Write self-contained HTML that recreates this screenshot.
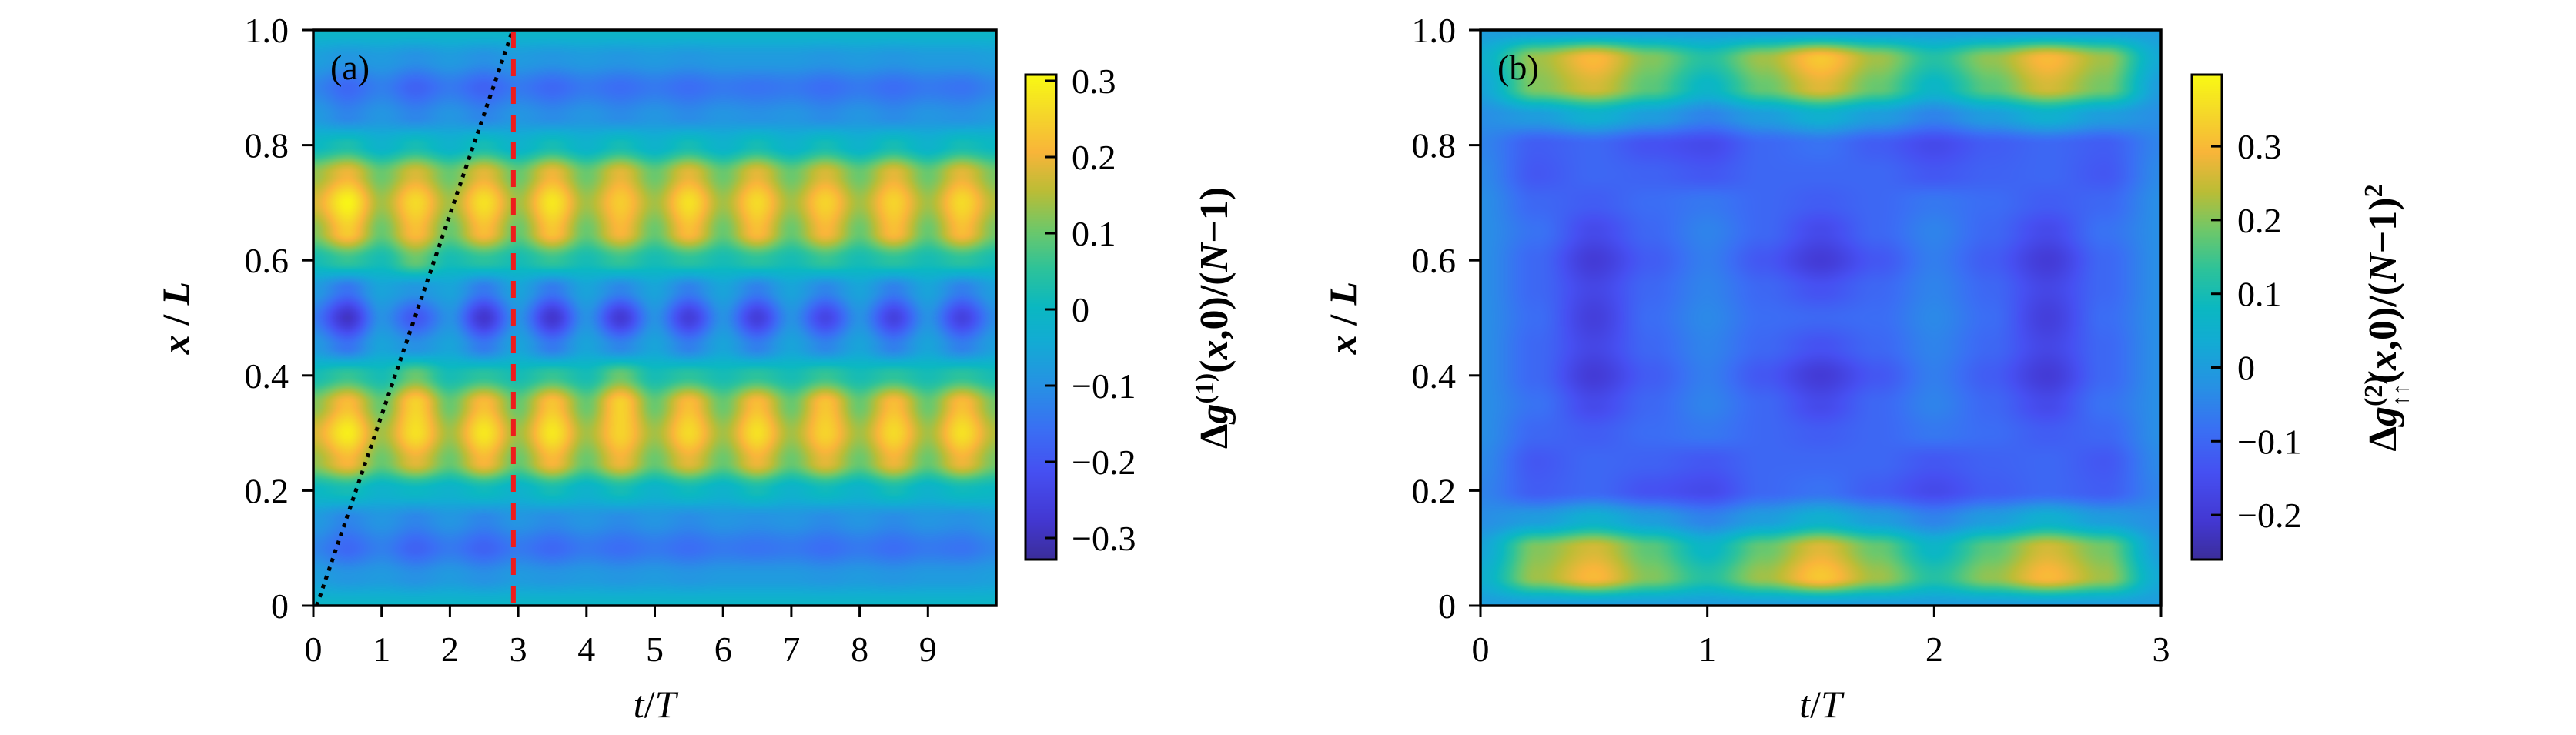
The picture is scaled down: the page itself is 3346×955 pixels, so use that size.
<!DOCTYPE html>
<html><head><meta charset="utf-8">
<style>
html,body{margin:0;padding:0;background:#fff;}
#root{position:relative;width:3346px;height:955px;overflow:hidden;background:#fff;}
canvas{position:absolute;}
svg{position:absolute;left:0;top:0;}
text{font-family:"Liberation Serif","DejaVu Serif",serif;fill:#000;}
</style></head>
<body>
<div id="root">
<canvas id="hmA"></canvas>
<canvas id="hmB"></canvas>
<canvas id="cbA"></canvas>
<canvas id="cbB"></canvas>
<svg id="ov" width="3346" height="955"></svg>
</div>
<script>
// ---------- Panel (a) data ----------
const tA = [0,0.5,1,1.5,2,2.5,3,3.5,4,4.5,5,5.5,6,6.5,7,7.5,8,8.5,9,9.5,10];
const xA = [0,0.05,0.1,0.15,0.2,0.25,0.3,0.35,0.4,0.45,0.5,0.55,0.6,0.65,0.7,0.75,0.8,0.85,0.9,0.95,1];
const zA = [
[-0.01,-0.01,-0.01,-0.01,-0.01,-0.01,-0.01,-0.01,-0.01,-0.01,-0.01,-0.01,-0.01,-0.01,-0.01,-0.01,-0.01,-0.01,-0.01,-0.01,-0.01],
[-0.07,-0.09,-0.08,-0.10,-0.08,-0.10,-0.08,-0.09,-0.08,-0.09,-0.08,-0.09,-0.08,-0.08,-0.08,-0.09,-0.08,-0.09,-0.08,-0.08,-0.07],
[-0.12,-0.17,-0.13,-0.18,-0.14,-0.18,-0.14,-0.17,-0.14,-0.16,-0.14,-0.16,-0.14,-0.15,-0.14,-0.16,-0.14,-0.16,-0.14,-0.15,-0.12],
[-0.08,-0.12,-0.09,-0.12,-0.09,-0.12,-0.09,-0.11,-0.09,-0.11,-0.09,-0.11,-0.09,-0.10,-0.09,-0.11,-0.09,-0.11,-0.09,-0.10,-0.08],
[0.00,0.02,-0.02,0.00,-0.02,0.01,-0.02,0.02,-0.02,0.02,-0.02,0.01,-0.02,0.02,-0.02,0.01,-0.02,0.02,-0.02,0.01,0.00],
[0.13,0.21,0.10,0.19,0.10,0.21,0.10,0.21,0.10,0.20,0.10,0.19,0.10,0.20,0.10,0.19,0.10,0.20,0.10,0.20,0.11],
[0.18,0.29,0.14,0.27,0.14,0.28,0.14,0.28,0.14,0.25,0.14,0.26,0.14,0.27,0.14,0.25,0.14,0.26,0.14,0.27,0.15],
[0.12,0.22,0.10,0.25,0.10,0.22,0.10,0.23,0.10,0.25,0.10,0.22,0.10,0.22,0.10,0.23,0.10,0.22,0.10,0.22,0.11],
[0.02,0.06,0.02,0.10,0.02,0.05,0.02,0.06,0.02,0.10,0.02,0.05,0.02,0.05,0.02,0.06,0.02,0.05,0.02,0.05,0.02],
[-0.08,-0.15,-0.06,-0.10,-0.06,-0.14,-0.06,-0.14,-0.06,-0.12,-0.06,-0.13,-0.06,-0.13,-0.06,-0.12,-0.06,-0.13,-0.06,-0.13,-0.07],
[-0.14,-0.29,-0.10,-0.20,-0.10,-0.28,-0.10,-0.28,-0.10,-0.27,-0.10,-0.26,-0.10,-0.26,-0.10,-0.24,-0.10,-0.25,-0.10,-0.25,-0.11],
[-0.08,-0.15,-0.06,-0.09,-0.06,-0.14,-0.06,-0.14,-0.06,-0.12,-0.06,-0.13,-0.06,-0.13,-0.06,-0.12,-0.06,-0.13,-0.06,-0.13,-0.07],
[0.02,0.06,0.02,0.10,0.02,0.05,0.02,0.06,0.02,0.06,0.02,0.05,0.02,0.05,0.02,0.06,0.02,0.05,0.02,0.05,0.02],
[0.12,0.24,0.10,0.22,0.10,0.22,0.10,0.23,0.10,0.21,0.10,0.22,0.10,0.22,0.10,0.21,0.10,0.22,0.10,0.22,0.11],
[0.18,0.30,0.14,0.26,0.14,0.27,0.14,0.28,0.14,0.24,0.14,0.27,0.14,0.26,0.14,0.25,0.14,0.25,0.14,0.26,0.15],
[0.13,0.20,0.10,0.18,0.10,0.19,0.10,0.20,0.10,0.19,0.10,0.19,0.10,0.19,0.10,0.18,0.10,0.19,0.10,0.19,0.11],
[0.00,0.03,-0.02,0.02,-0.02,0.02,-0.02,0.02,-0.02,0.02,-0.02,0.02,-0.02,0.02,-0.02,0.02,-0.02,0.02,-0.02,0.02,0.00],
[-0.08,-0.12,-0.09,-0.12,-0.09,-0.12,-0.09,-0.11,-0.09,-0.11,-0.09,-0.11,-0.09,-0.10,-0.09,-0.11,-0.09,-0.11,-0.09,-0.10,-0.08],
[-0.12,-0.17,-0.13,-0.18,-0.14,-0.18,-0.14,-0.17,-0.14,-0.16,-0.14,-0.16,-0.14,-0.15,-0.14,-0.16,-0.14,-0.16,-0.14,-0.15,-0.12],
[-0.07,-0.09,-0.08,-0.10,-0.08,-0.10,-0.08,-0.09,-0.08,-0.09,-0.08,-0.09,-0.08,-0.08,-0.08,-0.09,-0.08,-0.09,-0.08,-0.08,-0.07],
[-0.01,-0.01,-0.01,-0.01,-0.01,-0.01,-0.01,-0.01,-0.01,-0.01,-0.01,-0.01,-0.01,-0.01,-0.01,-0.01,-0.01,-0.01,-0.01,-0.01,-0.01]
];
const xTicksA = [0,1,2,3,4,5,6,7,8,9];
const yTicks = [0,0.2,0.4,0.6,0.8,1.0];
const yTickLabels = ["0","0.2","0.4","0.6","0.8","1.0"];
const cbTicksA = [-0.3,-0.2,-0.1,0,0.1,0.2,0.3];
const cbLabelsA = ["\u22120.3","\u22120.2","\u22120.1","0","0.1","0.2","0.3"];
const dotLineT = [0.05,2.92];
const dotLineX = [0,1];
const redLineT = [2.93];

// ---------- Panel (b) data ----------
const tB = [0,0.25,0.5,0.75,1,1.25,1.5,1.75,2,2.25,2.5,2.75,3];
const xB = [0,0.05,0.1,0.15,0.2,0.25,0.3,0.35,0.4,0.45,0.5,0.55,0.6,0.65,0.7,0.75,0.8,0.85,0.9,0.95,1];
const zB = [
[0.00,0.00,0.00,0.00,0.00,0.00,0.00,0.00,0.00,0.00,0.00,0.00,0.00],
[0.05,0.22,0.30,0.20,0.12,0.22,0.32,0.22,0.12,0.21,0.30,0.22,0.03],
[0.02,0.20,0.26,0.17,0.07,0.18,0.27,0.18,0.07,0.17,0.26,0.19,0.00],
[-0.03,0.00,0.05,0.00,-0.05,0.00,0.05,0.00,-0.05,0.00,0.05,0.00,-0.03],
[-0.05,-0.12,-0.10,-0.14,-0.16,-0.10,-0.08,-0.12,-0.16,-0.12,-0.10,-0.12,-0.05],
[-0.04,-0.13,-0.10,-0.11,-0.13,-0.10,-0.10,-0.10,-0.13,-0.11,-0.10,-0.13,-0.04],
[-0.03,-0.10,-0.12,-0.09,-0.07,-0.10,-0.12,-0.10,-0.07,-0.09,-0.12,-0.10,-0.03],
[-0.03,-0.08,-0.16,-0.10,-0.05,-0.10,-0.16,-0.10,-0.05,-0.10,-0.16,-0.08,-0.03],
[-0.03,-0.10,-0.20,-0.12,-0.06,-0.13,-0.20,-0.13,-0.06,-0.12,-0.20,-0.10,-0.03],
[-0.03,-0.10,-0.17,-0.10,-0.05,-0.10,-0.14,-0.10,-0.05,-0.10,-0.17,-0.10,-0.03],
[-0.03,-0.09,-0.19,-0.09,-0.04,-0.09,-0.10,-0.09,-0.04,-0.09,-0.19,-0.09,-0.03],
[-0.03,-0.10,-0.17,-0.10,-0.05,-0.10,-0.14,-0.10,-0.05,-0.10,-0.17,-0.10,-0.03],
[-0.03,-0.10,-0.20,-0.12,-0.06,-0.13,-0.20,-0.13,-0.06,-0.12,-0.20,-0.10,-0.03],
[-0.03,-0.08,-0.16,-0.10,-0.05,-0.10,-0.16,-0.10,-0.05,-0.10,-0.16,-0.08,-0.03],
[-0.03,-0.10,-0.12,-0.09,-0.07,-0.10,-0.12,-0.10,-0.07,-0.09,-0.12,-0.10,-0.03],
[-0.04,-0.13,-0.10,-0.11,-0.13,-0.10,-0.10,-0.10,-0.13,-0.11,-0.10,-0.13,-0.04],
[-0.05,-0.12,-0.10,-0.14,-0.16,-0.10,-0.08,-0.12,-0.16,-0.12,-0.10,-0.12,-0.05],
[-0.03,0.00,0.05,0.00,-0.05,0.00,0.05,0.00,-0.05,0.00,0.05,0.00,-0.03],
[0.02,0.20,0.26,0.17,0.07,0.18,0.27,0.18,0.07,0.17,0.26,0.19,0.00],
[0.05,0.22,0.30,0.20,0.12,0.22,0.32,0.22,0.12,0.21,0.30,0.22,0.03],
[0.00,0.00,0.00,0.00,0.00,0.00,0.00,0.00,0.00,0.00,0.00,0.00,0.00]
];
const xTicksB = [0,1,2,3];
const cbTicksB = [-0.2,-0.1,0,0.1,0.2,0.3];
const cbLabelsB = ["\u22120.2","\u22120.1","0","0.1","0.2","0.3"];

// ---------- colormap (parula-like) ----------
const cmStops = [
[0.00,[59,46,154]],[0.08,[67,56,210]],[0.18,[70,80,242]],[0.27,[58,112,244]],
[0.36,[39,146,228]],[0.45,[19,172,212]],[0.52,[11,184,194]],[0.60,[46,195,154]],
[0.68,[111,200,106]],[0.76,[188,189,54]],[0.84,[249,181,58]],[0.92,[245,216,42]],[1.00,[249,250,20]]
];
function cmap(u){
  u=Math.max(0,Math.min(1,u));
  for(let i=1;i<cmStops.length;i++){
    if(u<=cmStops[i][0]){
      const a=cmStops[i-1],b=cmStops[i];const f=(u-a[0])/(b[0]-a[0]);
      return [0,1,2].map(k=>a[1][k]+(b[1][k]-a[1][k])*f);
    }
  }
  return cmStops[cmStops.length-1][1];
}

// ---------- axis geometry ----------
const PA={x0:407,x1:1294,y0:39,y1:787,tmax:10};
const PB={x0:1923,x1:2807,y0:39,y1:787,tmax:3};
const CA={x0:1332,x1:1372,y0:97,y1:727,vmin:-0.328,vmax:0.308,zeroY:402,per:990};
const CB={x0:2847,x1:2886,y0:97,y1:727,vmin:-0.262,vmax:0.397,zeroY:477.5,per:958};
function sx(P,t){return P.x0+(P.x1-P.x0)*t/P.tmax;}
function sy(P,x){return P.y1-(P.y1-P.y0)*x;}
function cy(C,v){return C.zeroY-v*C.per;}

function locate(arr,v){
  let i=0;while(i<arr.length-2&&v>arr[i+1])i++;
  let f=(v-arr[i])/(arr[i+1]-arr[i]);f=Math.max(0,Math.min(1,f));
  f=f*f*(3-2*f);return [i,f];
}
function drawHeat(id,P,C,ts,xs,z){
  const cv=document.getElementById(id);
  const W=P.x1-P.x0,H=P.y1-P.y0;
  cv.width=W;cv.height=H;cv.style.left=P.x0+'px';cv.style.top=P.y0+'px';
  const ctx=cv.getContext('2d');const img=ctx.createImageData(W,H);
  const colI=[];for(let px=0;px<W;px++)colI.push(locate(ts,(px+0.5)/W*P.tmax));
  for(let py=0;py<H;py++){
    const [j,g]=locate(xs,1-(py+0.5)/H);
    for(let px=0;px<W;px++){
      const [i,f]=colI[px];
      const v=(z[j][i]*(1-f)+z[j][i+1]*f)*(1-g)+(z[j+1][i]*(1-f)+z[j+1][i+1]*f)*g;
      const c=cmap((v-C.vmin)/(C.vmax-C.vmin));
      const o=(py*W+px)*4;img.data[o]=c[0];img.data[o+1]=c[1];img.data[o+2]=c[2];img.data[o+3]=255;
    }
  }
  ctx.putImageData(img,0,0);
}
function drawBar(id,C){
  const cv=document.getElementById(id);
  const W=C.x1-C.x0,H=C.y1-C.y0;
  cv.width=W;cv.height=H;cv.style.left=C.x0+'px';cv.style.top=C.y0+'px';
  const ctx=cv.getContext('2d');
  for(let py=0;py<H;py++){
    const v=(C.zeroY-(C.y0+py+0.5))/C.per;
    const c=cmap((v-C.vmin)/(C.vmax-C.vmin));
    ctx.fillStyle=`rgb(${c[0]|0},${c[1]|0},${c[2]|0})`;ctx.fillRect(0,py,W,1);
  }
}
drawHeat('hmA',PA,CA,tA,xA,zA);
drawHeat('hmB',PB,CB,tB,xB,zB);
drawBar('cbA',CA);
drawBar('cbB',CB);

// ---------- SVG overlay ----------
const NS='http://www.w3.org/2000/svg';
const ov=document.getElementById('ov');
function mk(tag,attrs,parent){const e=document.createElementNS(NS,tag);for(const k in attrs)e.setAttribute(k,attrs[k]);(parent||ov).appendChild(e);return e;}

function axes(P,xt,label,name){
  const g=mk('g',{});
  
  
  const fr=mk('rect',{x:P.x0,y:P.y0,width:P.x1-P.x0,height:P.y1-P.y0,fill:'none',stroke:'#000','stroke-width':3.5},g);
  
  
  xt.forEach(t=>{
    const X=sx(P,t);
    const tk=mk('line',{x1:X,y1:P.y1,x2:X,y2:P.y1+15,stroke:'#000','stroke-width':3},g);
    
    
    const tx=mk('text',{x:X,y:859,'font-size':46,'text-anchor':'middle'},g);
    tx.textContent=String(t);
    
    
  });
  yTicks.forEach((v,k)=>{
    const Y=sy(P,v);
    const tk=mk('line',{x1:P.x0-15,y1:Y,x2:P.x0,y2:Y,stroke:'#000','stroke-width':3},g);
    
    
    const tx=mk('text',{x:P.x0-32,y:Y+16,'font-size':46,'text-anchor':'end'},g);
    tx.textContent=yTickLabels[k];
    
    
  });
  const pl=mk('text',{x:P.x0+22,y:103,'font-size':46},g);
  pl.textContent=label;
  
  
  const xl=mk('text',{x:(P.x0+P.x1)/2,y:932,'font-size':50,'text-anchor':'middle'},g);
  xl.innerHTML='<tspan font-style="italic">t</tspan>/<tspan font-style="italic">T</tspan>';
  
  
  const yx=P.x0-162;
  const yl=mk('text',{x:yx,y:413,'font-size':50,'font-weight':'bold','text-anchor':'middle',transform:`rotate(-90 ${yx} 413)`},g);
  yl.innerHTML='<tspan font-style="italic">x</tspan> / <tspan font-style="italic">L</tspan>';
  
  
}
axes(PA,xTicksA,'(a)','panel-a');
axes(PB,xTicksB,'(b)','panel-b');

function cbar(C,ticks,labels,titleHTML,cx,name){
  const g=mk('g',{});
  
  
  const fr=mk('rect',{x:C.x0,y:C.y0,width:C.x1-C.x0,height:C.y1-C.y0,fill:'none',stroke:'#000','stroke-width':3},g);
  
  
  ticks.forEach((v,k)=>{
    const Y=cy(C,v);
    const tk=mk('line',{x1:C.x1-14,y1:Y,x2:C.x1,y2:Y,stroke:'#000','stroke-width':3},g);
    
    
    const tx=mk('text',{x:C.x1+20,y:Y+16,'font-size':46},g);
    tx.textContent=labels[k];
    
    
  });
  const tt=mk('text',{x:cx,y:413,'font-size':52,'font-weight':'bold','text-anchor':'middle',transform:`rotate(-90 ${cx} 413)`},g);
  tt.innerHTML=titleHTML;
  
  
}
cbar(CA,cbTicksA,cbLabelsA,'Δ<tspan font-style="italic">g</tspan><tspan font-size="34" dy="-18">(1)</tspan><tspan dy="18">(</tspan><tspan font-style="italic">x</tspan>,0)/(<tspan font-style="italic">N</tspan>−1)',1594,'colorbar-a-axis');
cbar(CB,cbTicksB,cbLabelsB,'Δ<tspan font-style="italic">g</tspan><tspan font-size="34" dy="-18">(2)</tspan><tspan font-size="30" dx="-40" dy="34">↑↑</tspan><tspan dy="-16">(</tspan><tspan font-style="italic">x</tspan>,0)/(<tspan font-style="italic">N</tspan>−1)<tspan font-size="34" dy="-18">2</tspan>',3112,'colorbar-b-axis');

// dotted light-cone line and red dashed line in panel (a)
const dl=mk('line',{x1:sx(PA,dotLineT[0]),y1:sy(PA,dotLineX[0]),x2:sx(PA,dotLineT[1]),y2:sy(PA,dotLineX[1]),stroke:'#000','stroke-width':5,'stroke-dasharray':'5 7'});


const rl=mk('line',{x1:sx(PA,redLineT[0]),y1:PA.y0+2,x2:sx(PA,redLineT[0]),y2:PA.y1,stroke:'#ee1c1c','stroke-width':6,'stroke-dasharray':'22 14'});


</script>
</body></html>
